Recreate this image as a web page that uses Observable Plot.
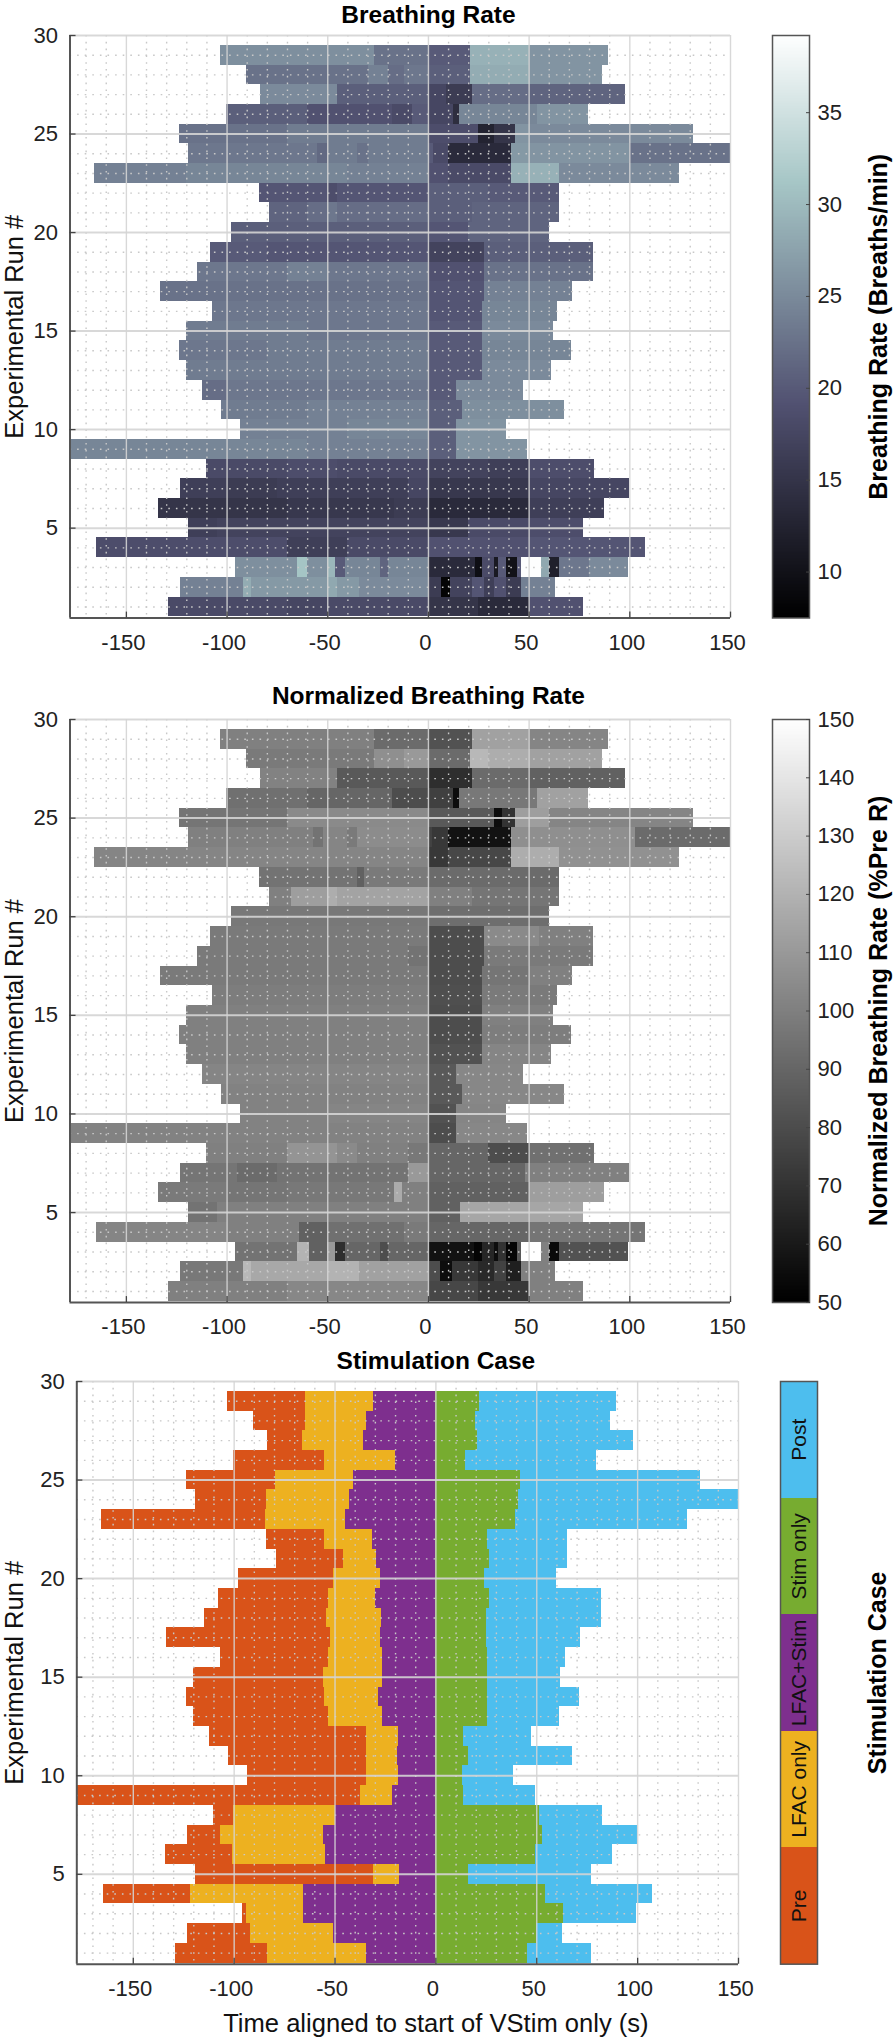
<!DOCTYPE html>
<html>
<head>
<meta charset="utf-8">
<script src="https://cdn.jsdelivr.net/npm/d3@7"></script>
<script src="https://cdn.jsdelivr.net/npm/@observablehq/plot@0.6"></script>
<style>
  html, body { margin: 0; padding: 0; background: #fff; }
  #page { position: relative; width: 893px; height: 2038px; overflow: hidden; }
  #page svg { position: absolute; overflow: visible; }
</style>
</head>
<body>
<div id="page"></div>
<script>
// Runs 1..29 (index 0 = run 1)
const runStart = [-129,-123,-96,-165,-119,-134,-123,-110,-178,-93.5,-103,-112,-120,-123.4,-120,-107,-133.3,-114.7,-108,-98,-79,-84,-166,-119,-123.4,-100.3,-83.3,-90.4,-103.4];
const runEnd   = [77,63,99.4,107.6,77,87.3,100,82.5,49.2,38.7,67.5,47.2,61.3,71.2,61.9,64.1,71.5,81.9,81.9,59.9,65.3,65.3,124.6,150,131.4,79.7,98,86.4,89.3];

// Breakpoints inside each run, then the value of each piece: breathing rate
const rateBreaks = [
  [-70,-50,0,25,50],
  [-92,-88,-50,-45,-34,0,6.6,11,22,28,33,39,46],
  [-65,-60,-50,-46,-41,-24,-20,0,23.5,27,33,35,39,44,46,56,60,65,80],
  [-70,-40,0,50],
  [-105,0,20,50],
  [-100,-70,-17,-13,0,50],
  [-100,-75,-10,0,50],
  [-70,-45,0,30,50],
  [-60,0,14],
  [-40,0,14],
  [-60,0,17],
  [-100,0,14],
  [-50,0,27],
  [-80,0,27],
  [-60,0,27],
  [-60,0,27],
  [-100,0,28],
  [-70,-50,0,28],
  [-80,0,28],
  [-40,0,20],
  [-60,-50,-45,0,22],
  [-50,-45,0,30],
  [-120,-40,0,10,41,65],
  [-55,-50,-35,-30,0,2.5,10,41,50,100],
  [-70,0,25,33,43,50],
  [-60,-18,-8,0,12.4,15.3,54],
  [-45,0,9,22,50],
  [-30,-20,-12,0,21,50],
  [-27,0,21,50]
];
const rateValues = [
  [18,17.5,18,15,13.5,19],
  [24,28.5,26.5,28,26.5,25,16,8,17,19.5,16.5,19,16,24],
  [25.5,31,25.5,29.5,20,24.5,21,24.5,13.5,9.5,18,11,20,10,20,39,28,12,23,25],
  [18.5,16.5,18,19,19.5],
  [16.5,17,15.5,18,18.5],
  [15,15,15.5,16,16,13.5,16.5],
  [16.5,16,16.5,17.5,15.5,17.5],
  [18,18.5,18,17,16.5,18.5],
  [24.5,24,20.5,26],
  [24,24.5,20.5,26],
  [23.5,24,20.5,25.5],
  [22,23,20,25],
  [23.5,23.5,20,25],
  [23,23.5,20,24.5],
  [23.5,23,20,25],
  [23,23,19.5,24.5],
  [22.5,22.5,19.5,24],
  [23,24,23,19,22.5],
  [20,19.5,17,20.5],
  [20.5,20.5,19.5,21],
  [21,22,23,22,20.5,21],
  [19.5,18.5,19.5,20.5,20],
  [24,24.5,24,19,18,29,25],
  [23,21.5,23.5,22.5,23.5,20,18,13.5,26.5,26,22.5],
  [22.5,23.5,18.5,12.5,15,26,25],
  [20.5,19,18,20,17.5,14,24.5,26],
  [25,20.5,17.5,16,22,21],
  [22.5,24,22,23,20.5,28.5,26],
  [25.5,22.5,20,29,26]
];
// Normalized breathing rate
const normBreaks = [
  [-70,0,25,50],
  [-92,-88,-50,-34,0,6,12,25,33,39,46],
  [-65,-59,-50,-46,-41,-24,-20,0,23,27,33,35,39,44,46,56,60,65],
  [-100,-64,-50,-12,0,50],
  [-105,0,16],
  [-100,-70,-17,-13,0,50],
  [-95,-75,-10,0,48],
  [-70,-45,-35,-10,0,30,50],
  [0,14],
  [-50,0,14],
  [0,17],
  [0,14],
  [0,27],
  [0,27],
  [0,27],
  [0,27],
  [0,27,50],
  [-10,0,28],
  [0,28,55],
  [0],
  [-68,-50,-45,0,22],
  [-35,-32,0],
  [0,10,41,65],
  [-57,-52,-40,-35,0,2,10,41,103],
  [-70,0,33,37,43,60],
  [-60,-18,0,12.4,15.3,54],
  [-45,0,22,50],
  [-27,-12,0,21,30,50],
  [-27,0,22,50]
];
const normValues = [
  [100,103,78,72,100],
  [97,122,116,120,113,80,55,72,66,76,62,100],
  [95,120,88,110,68,90,80,90,57,52,65,55,70,52,85,150,100,54,82],
  [102,100,88,94,98,90,96],
  [95,100,88,115],
  [98,96,97,117,100,88,112],
  [96,92,95,110,90,100],
  [100,108,104,100,97,90,80,94],
  [101,80,103],
  [101,102,82,102],
  [101,85,103],
  [102,85,103],
  [100,82,102],
  [100,80,99],
  [100,80,100],
  [99,81,98],
  [98,80,96,100],
  [98,95,80,98],
  [98,80,104,100],
  [97,93],
  [100,112,118,114,100,96],
  [95,88,98,92],
  [102,72,78,118,107],
  [100,95,102,98,105,76,72,57,106,92],
  [96,104,85,55,70,112,102],
  [94,90,80,75,55,97,113],
  [101,85,68,92,88],
  [98,106,110,92,122,118,113],
  [100,92,82,113,102]
];

// Stimulation case boundaries per run (LFAC+Stim ends at 0)
const preEnd  = [-83.3,-91.8,-94,-121.5,-31,-100.8,-107,-100.3,-37.6,-34.5,-34.5,-34.5,-53.1,-55.1,-55.6,-53.4,-52,-54.2,-53.1,-50.6,-45.8,-55.1,-84.7,-83.9,-79.7,-55.1,-66.1,-64.7,-64.7];
const lfacEnd = [-34.2,-50.6,-65.5,-65.8,-17.8,-54.5,-55.9,-50,-21.5,-18.6,-18.9,-18.6,-26.3,-28.5,-26.3,-26.6,-27.4,-27.1,-29.9,-27.7,-29.4,-31.6,-44.9,-42.9,-41,-19.8,-35.9,-34.2,-30.8];
const stimEnd = [45.5,49.7,63.3,54.2,16.1,49.4,52.8,51.4,13.6,13.3,16.1,13.6,25.7,25.7,25.7,25.4,25.1,25.1,26.6,24.3,26.6,25.4,39.3,41,41.8,14.7,20.6,19.8,21.5];

const caseNames  = ["Pre","LFAC only","LFAC+Stim","Stim only","Post"];
const caseColors = ["#d95319","#edb120","#7e2f8e","#77ac30","#4dbeee"];

const xTicks = [-150,-100,-50,0,50,100,150];
const yTicks = [5,10,15,20,25,30];
const xMinor = [-170,-160,-140,-130,-120,-110,-90,-80,-70,-60,-40,-30,-20,-10,10,20,30,40,60,70,80,90,110,120,130,140];
const yMinor = [1,2,3,4,6,7,8,9,11,12,13,14,16,17,18,19,21,22,23,24,26,27,28,29];
const xDomain = [-178,150];
const yDomain = [0.44,30];

const boneDomainT = [0,0.365,0.746,1];
const boneRange = ["#000000","#515171","#a6c6c6","#ffffff"];

const font = "'Liberation Sans', Arial, sans-serif";
const page = document.getElementById("page");

function place(svg, left, top) {
  svg.style.left = left + "px";
  svg.style.top = top + "px";
  page.appendChild(svg);
}

function heatRows(breaks, values) {
  const rows = [];
  runStart.forEach((s, i) => {
    const edges = [s, ...breaks[i], runEnd[i]];
    values[i].forEach((v, j) => {
      rows.push({run: i + 1, x1: edges[j], x2: edges[j + 1], v});
    });
  });
  return rows;
}
function caseRows() {
  const rows = [];
  runStart.forEach((s, i) => {
    const edges = [s, preEnd[i], lfacEnd[i], 0, stimEnd[i], runEnd[i]];
    caseNames.forEach((name, j) => {
      rows.push({run: i + 1, x1: edges[j], x2: edges[j + 1], v: name});
    });
  });
  return rows;
}

function chart({top, marginLeft, marginRight, plotH, rows, color, title, titleDy, xLabel}) {
  const marginTop = 34, marginBottom = 60;
  const marks = [
    Plot.rect(rows, {
      x1: "x1", x2: "x2",
      y1: d => d.run - 0.5, y2: d => d.run + 0.5,
      fill: "v", shapeRendering: "crispEdges"
    }),
    Plot.ruleX(xMinor, {stroke: "#c8c8c8", strokeWidth: 1.4, strokeDasharray: "1.6,5.2"}),
    Plot.ruleY(yMinor, {stroke: "#c8c8c8", strokeWidth: 1.4, strokeDasharray: "1.6,6"}),
    Plot.ruleX(xTicks, {stroke: "#d4d4d4", strokeWidth: 1.4, strokeOpacity: 0.9}),
    Plot.ruleY(yTicks, {stroke: "#d4d4d4", strokeWidth: 2, strokeOpacity: 0.9}),
    Plot.ruleX([xDomain[0]], {stroke: "#555", strokeWidth: 2}),
    Plot.ruleY([yDomain[0]], {stroke: "#555", strokeWidth: 2}),
    Plot.ruleX(xTicks, {y1: yDomain[0], y2: yDomain[0] + 0.3, stroke: "#444", strokeWidth: 1.3}),
    Plot.ruleY(yTicks, {x1: xDomain[0], x2: xDomain[0] + 3, stroke: "#444", strokeWidth: 1.3}),
    Plot.axisX({
      ticks: xTicks, tickSize: 0, tickPadding: 16, dx: -3, label: null,
      tickFormat: d => String(d), fontSize: 22, fill: "#222"
    }),
    Plot.axisY({
      ticks: yTicks, tickSize: 0, tickPadding: 12, label: null,
      tickFormat: d => String(d), fontSize: 22, fill: "#222"
    }),
    Plot.text([title], {
      x: 0, frameAnchor: "top", dy: -titleDy, text: d => d,
      fontSize: 24.5, fontWeight: "bold", fill: "#000", lineAnchor: "bottom"
    }),
    Plot.text(["Experimental Run #"], {
      frameAnchor: "left", textAnchor: "middle", dx: 14 - marginLeft, rotate: -90, text: d => d,
      fontSize: 25.5, fill: "#111"
    })
  ];
  if (xLabel) {
    marks.push(Plot.text([xLabel], {
      x: 0, frameAnchor: "bottom", dy: 68, text: d => d,
      fontSize: 25.6, fill: "#111", lineAnchor: "bottom"
    }));
  }
  const svg = Plot.plot({
    width: 893, height: plotH + marginTop + marginBottom,
    marginTop, marginBottom, marginLeft, marginRight,
    x: {domain: xDomain, axis: null},
    y: {domain: yDomain, axis: null},
    color,
    style: {fontFamily: font, background: "transparent", overflow: "visible"},
    marks
  });
  place(svg, 0, top - marginTop);
}

function colorbar({left, top, plotH, domain, color, ticks, label}) {
  const barW = 37, width = 133, pad = 12;
  const steps = d3.range(0, 400).map(i => domain[0] + (domain[1] - domain[0]) * i / 400);
  const dv = (domain[1] - domain[0]) / 400;
  const svg = Plot.plot({
    width, height: plotH + 20,
    marginTop: 10, marginBottom: 10, marginLeft: pad, marginRight: width - pad - barW,
    x: {domain: [0, 1], axis: null},
    y: {domain, axis: null},
    color,
    style: {fontFamily: font, background: "transparent", overflow: "visible"},
    marks: [
      Plot.rect(steps, {x1: 0, x2: 1, y1: d => d, y2: d => d + dv, fill: d => d, shapeRendering: "crispEdges"}),
      Plot.frame({stroke: "#555", strokeWidth: 1.5}),
      Plot.axisY({
        anchor: "right", ticks, tickSize: -4, tickPadding: 12, label: null,
        tickFormat: d => String(d), fontSize: 22, stroke: "#444", fill: "#222"
      }),
      Plot.text([label], {
        frameAnchor: "right", textAnchor: "middle", dx: 69, rotate: -90, text: d => d,
        fontSize: 25, fontWeight: "bold", fill: "#000"
      })
    ]
  });
  place(svg, left - pad, top - 10);
}

// Panel 1
const rateDomain = [7.5, 39.2];
const rateColor = {
  type: "linear",
  domain: boneDomainT.map(t => rateDomain[0] + t * (rateDomain[1] - rateDomain[0])),
  range: boneRange, clamp: true
};
chart({top: 34.5, marginLeft: 69.5, marginRight: 163, plotH: 582.5,
  rows: heatRows(rateBreaks, rateValues), color: rateColor, title: "Breathing Rate", titleDy: 13});
colorbar({left: 771.6, top: 34.5, plotH: 582.5, domain: rateDomain, color: rateColor,
  ticks: [10,15,20,25,30,35], label: "Breathing Rate (Breaths/min)"});

// Panel 2
const normDomain = [50, 150];
const normColor = {type: "linear", domain: normDomain, range: ["#000000","#ffffff"], clamp: true};
chart({top: 718.7, marginLeft: 69.5, marginRight: 163, plotH: 583,
  rows: heatRows(normBreaks, normValues), color: normColor, title: "Normalized Breathing Rate", titleDy: 15.5});
colorbar({left: 771.6, top: 718.7, plotH: 583, domain: normDomain, color: normColor,
  ticks: [50,60,70,80,90,100,110,120,130,140,150], label: "Normalized Breathing Rate (%Pre R)"});

// Panel 3
const caseColor = {type: "ordinal", domain: caseNames, range: caseColors};
chart({top: 1381.3, marginLeft: 76.3, marginRight: 155, plotH: 582.7,
  rows: caseRows(), color: caseColor, title: "Stimulation Case", titleDy: 12.5,
  xLabel: "Time aligned to start of VStim only (s)"});

// Case colour key
(function () {
  const width = 133, pad = 12, barW = 37, h = 582.7;
  const cellIdx = caseNames.map((n, i) => ({name: n, i}));
  const svg = Plot.plot({
    width, height: h + 20,
    marginTop: 10, marginBottom: 10, marginLeft: pad, marginRight: width - pad - barW,
    x: {domain: [0, 1], axis: null},
    y: {domain: [0, caseNames.length], axis: null},
    color: caseColor,
    style: {fontFamily: font, background: "transparent", overflow: "visible"},
    marks: [
      Plot.rect(cellIdx, {x1: 0, x2: 1, y1: "i", y2: d => d.i + 1, fill: "name", shapeRendering: "crispEdges"}),
      Plot.frame({stroke: "#555", strokeWidth: 1.5}),
      Plot.text(cellIdx, {x: 0.5, y: d => d.i + 0.5, text: "name", rotate: -90, fontSize: 21, fill: "#111"}),
      Plot.text(["Stimulation Case"], {
        frameAnchor: "right", textAnchor: "middle", dx: 61, rotate: -90, text: d => d,
        fontSize: 25, fontWeight: "bold", fill: "#000"
      })
    ]
  });
  place(svg, 779.6 - pad, 1381.3 - 10);
})();
</script>
</body>
</html>
